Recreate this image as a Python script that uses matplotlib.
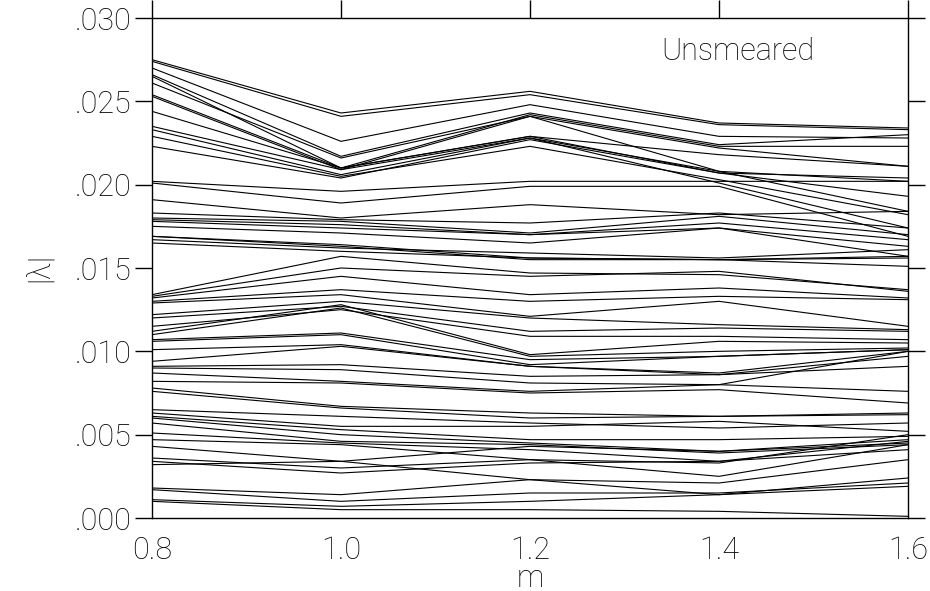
import matplotlib
matplotlib.use("Agg")
import matplotlib.pyplot as plt

# m values
m = [0.8, 1.0, 1.2, 1.4, 1.6]

# |lambda| curves, in units of 1e-3, one list per curve (values at m above)
top_curves = [
    [27.5, 24.3, 25.6, 23.7, 23.4],
    [27.4, 24.1, 25.4, 23.6, 23.3],
    [27.0, 22.6, 24.8, 22.9, 22.8],
    [26.6, 21.7, 24.3, 22.4, 23.0],
    [26.5, 21.0, 24.2, 22.3, 22.3],
    [26.1, 21.6, 24.1, 22.2, 21.1],
    [25.4, 21.0, 22.9, 21.8, 21.1],
    [25.3, 20.9, 22.8, 20.8, 20.2],
    [24.4, 21.0, 22.9, 20.7, 19.3],
    [23.5, 20.9, 24.1, 20.8, 18.4],
    [23.3, 20.6, 22.8, 20.1, 17.4],
    [22.9, 20.5, 22.3, 20.3, 18.2],
    [22.3, 20.4, 22.7, 20.7, 20.4],
]
middle_curves = [
    [20.2, 19.6, 20.2, 20.2, 20.2],
    [20.1, 18.9, 19.9, 19.9, 16.9],
    [19.1, 18.0, 18.8, 18.2, 18.4],
    [18.3, 17.9, 17.7, 18.3, 17.4],
    [18.0, 17.8, 17.1, 18.1, 17.0],
    [17.9, 17.6, 17.0, 17.7, 16.7],
    [17.8, 17.4, 17.0, 17.4, 16.3],
    [17.5, 17.1, 16.5, 17.4, 15.7],
    [16.9, 16.4, 15.6, 15.5, 15.7],
    [16.9, 16.3, 15.5, 15.5, 15.1],
    [16.7, 16.2, 15.9, 15.6, 16.1],
    [16.5, 16.0, 15.6, 15.5, 15.6],
]
lower_mid_curves = [
    [13.4, 15.7, 14.7, 14.6, 13.7],
    [13.3, 15.0, 14.5, 14.8, 13.6],
    [13.2, 14.5, 13.4, 13.8, 13.2],
    [13.0, 13.7, 13.0, 13.3, 13.1],
    [12.9, 13.4, 12.1, 13.0, 11.5],
    [12.2, 13.0, 12.0, 11.6, 11.3],
    [12.0, 12.7, 11.2, 11.4, 11.2],
    [11.5, 12.5, 10.9, 10.9, 10.7],
    [11.2, 12.8, 9.8, 10.6, 10.5],
    [11.0, 12.6, 9.7, 10.0, 10.2],
    [10.7, 11.1, 9.5, 9.7, 10.1],
    [10.6, 11.0, 9.2, 9.7, 10.1],
    [10.1, 10.4, 9.1, 8.6, 9.7],
]
low_curves = [
    [9.4, 10.3, 9.1, 8.7, 10.0],
    [9.1, 9.2, 8.5, 8.6, 9.1],
    [9.0, 8.9, 8.1, 8.0, 10.0],
    [8.7, 8.2, 7.6, 8.0, 7.6],
    [8.2, 8.1, 7.5, 7.7, 6.9],
    [7.8, 6.7, 6.3, 6.1, 6.2],
    [7.6, 6.6, 6.0, 6.1, 6.3],
    [6.5, 6.1, 5.7, 5.4, 5.7],
    [6.3, 5.5, 5.5, 5.8, 5.2],
    [6.1, 5.3, 4.7, 4.7, 4.9],
    [6.0, 5.0, 4.5, 4.0, 4.7],
    [5.7, 4.6, 4.4, 3.9, 4.4],
    [5.1, 4.5, 4.1, 3.4, 4.1],
    [4.7, 4.4, 3.5, 3.3, 5.0],
    [4.3, 3.4, 4.3, 4.0, 4.5],
    [3.6, 3.0, 3.5, 2.5, 4.4],
    [3.4, 2.7, 3.3, 3.4, 4.6],
    [3.2, 3.4, 2.3, 2.1, 3.5],
    [1.8, 1.4, 2.3, 1.4, 2.4],
    [1.7, 1.0, 1.5, 1.5, 2.1],
    [1.1, 0.7, 1.0, 1.4, 1.9],
    [1.0, 0.5, 0.5, 0.4, 0.1],
]

y_ticks = [0.000, 0.005, 0.010, 0.015, 0.020, 0.025, 0.030]
y_tick_labels = [".000", ".005", ".010", ".015", ".020", ".025", ".030"]
x_ticks = [0.8, 1.0, 1.2, 1.4, 1.6]
x_tick_labels = ["0.8", "1.0", "1.2", "1.4", "1.6"]

plt.rcParams['font.family'] = ['Roboto', 'DejaVu Sans']
fs = 22
fw = "light"

fig = plt.figure(figsize=(9.3, 5.91), dpi=100)
ax = fig.add_axes([152 / 930, 73 / 591, 756 / 930, 500 / 591])

for group in (top_curves, middle_curves, lower_mid_curves, low_curves):
    for c in group:
        ax.plot(m, [v * 1e-3 for v in c], color="black", lw=0.8)

ax.set_xlim(0.8, 1.6)
ax.set_ylim(0.0, 0.030)
ax.set_xticks(x_ticks)
ax.set_xticklabels(x_tick_labels, fontsize=fs, fontweight=fw)
ax.set_yticks(y_ticks)
ax.set_yticklabels(y_tick_labels, fontsize=fs, fontweight=fw)

ax.tick_params(axis="y", which="both", direction="out", length=12, width=1,
               left=True, right=True, pad=3)
ax.tick_params(axis="x", which="both", direction="out", length=13, width=1,
               top=True, bottom=False, pad=0)

for s in ax.spines.values():
    s.set_linewidth(1.0)
    s.set_color("black")

ax.set_xlabel("m", fontsize=fs, fontweight=fw, labelpad=-1)
ax.set_ylabel("|λ|", fontsize=fs, fontweight=fw, labelpad=14)

ax.text(0.775, 0.934, "Unsmeared", transform=ax.transAxes, ha="center",
        va="center", fontsize=fs, fontweight=fw)

fig.savefig("out.png", dpi=100)
